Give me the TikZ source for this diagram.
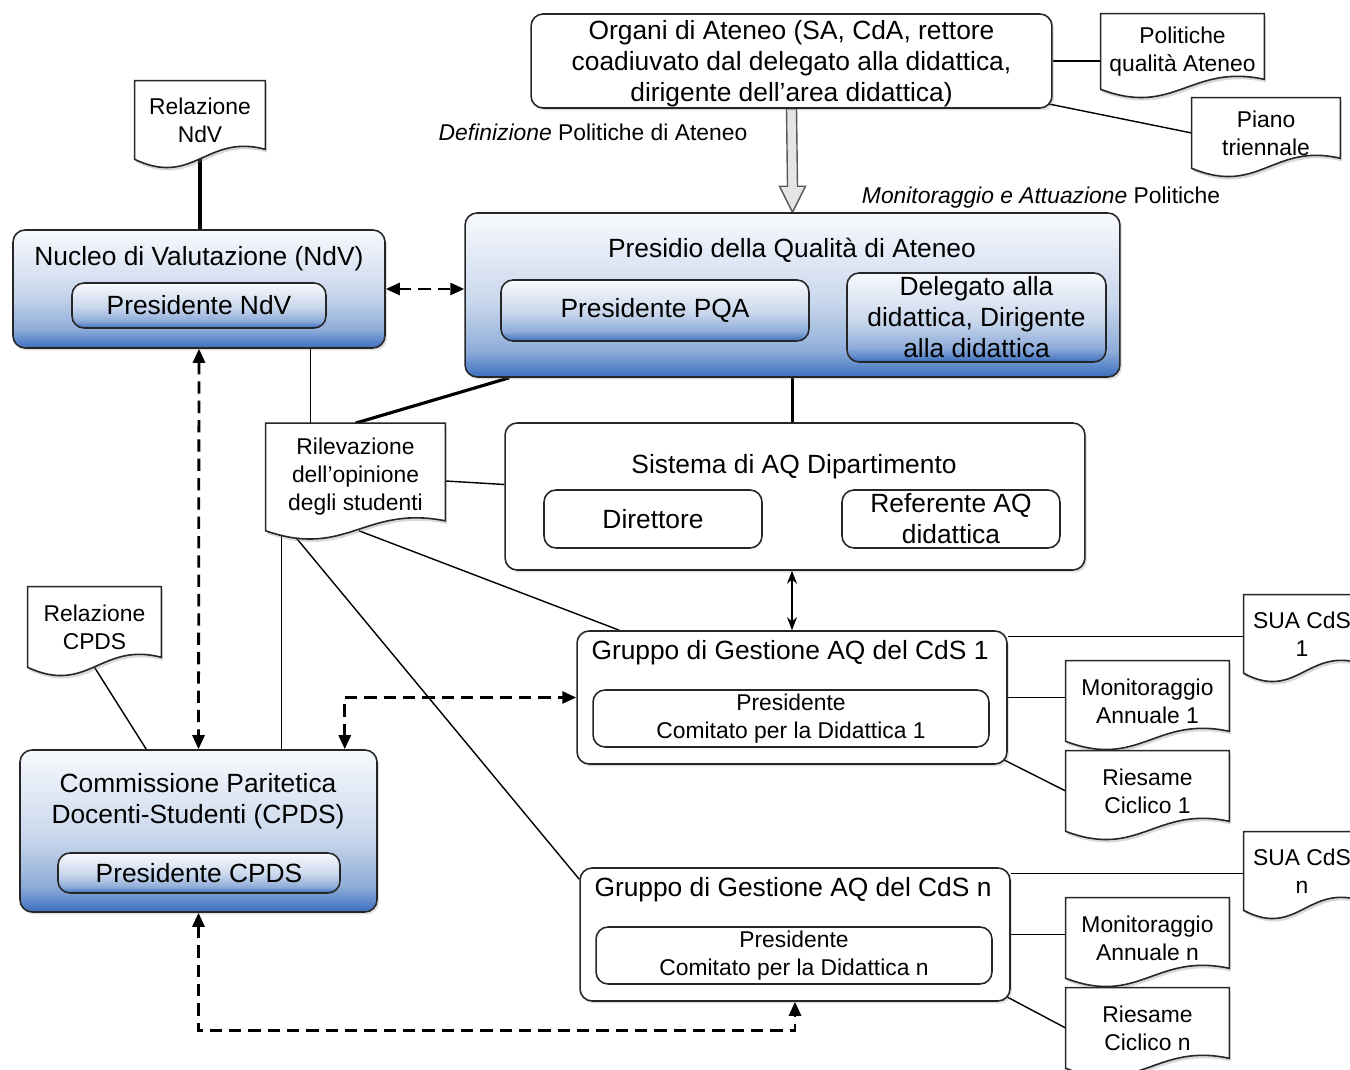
\documentclass[tikz,border=0pt]{standalone}
\usepackage{fontspec}
\setmainfont{Liberation Sans}
\usepackage{tikz}
\usetikzlibrary{calc,arrows.meta,shadows}
\definecolor{qaDark}{HTML}{3C6FBF}
\definecolor{qaMid}{HTML}{8FADD9}
\definecolor{qaLight}{HTML}{C9D7EC}
\definecolor{qaTop}{HTML}{F8FAFD}
\pgfdeclareverticalshading{boxshade}{100bp}{color(0bp)=(qaDark); color(25bp)=(qaDark); color(33bp)=(qaMid); color(48bp)=(qaLight); color(75bp)=(qaTop); color(100bp)=(qaTop)}
\pgfdeclarelayer{edges}
\pgfdeclarelayer{docs}
\pgfsetlayers{edges,docs,main}
\newcommand{\qabig}{\fontsize{15}{17.6}\selectfont}
\newcommand{\qasmall}{\fontsize{13}{15.9}\selectfont}

\begin{document}
\begin{tikzpicture}[x=0.02cm,y=-0.02cm,font=\qabig]

\tikzset{qabox/.style={draw=black!85,line width=0.9pt,rounded corners=0.24cm,fill=white,inner sep=0pt,align=center,drop shadow={opacity=0.25,shadow xshift=0.04cm,shadow yshift=-0.05cm}},
bluebox/.style={qabox,shade,shading=boxshade},
innerbox/.style={draw=black!85,line width=0.9pt,rounded corners=0.24cm,fill=white,inner sep=0pt,align=center},
blueinner/.style={innerbox,shade,shading=boxshade},
docnode/.style={font=\qasmall,align=center,inner sep=0pt},
docshape/.style={draw=black!85,line width=0.9pt,fill=white,drop shadow={opacity=0.3,shadow xshift=0.03cm,shadow yshift=-0.06cm}},
thinline/.style={line width=0.8pt},
thickline/.style={line width=1.8pt},
dasharrow/.style={line width=1.6pt,dash pattern=on 7pt off 4pt,>={Triangle[length=0.28cm,width=0.24cm]},<->},
twoway/.style={line width=0.8pt,>={Stealth[length=0.26cm,width=0.2cm]},<->},
hollowarrow/.style={draw=black!65,line width=0.8pt,fill=black!10}}

\useasboundingbox (0,0) rectangle (1350,1070);

% Ateneo
\node[qabox,minimum width=10.42cm,minimum height=1.88cm] (organi) at (791.5,61) {};
\node[align=center] (organiT) at (791.5,63.5) {Organi di Ateneo (SA, CdA, rettore\\coadiuvato dal delegato alla didattica,\\dirigente dell’area didattica)};
\node[docnode,minimum width=3.26cm,minimum height=1.5cm] (pol) at (1182.5,51.5) {Politiche\\qualità Ateneo};
\node[docnode,minimum width=2.96cm,minimum height=1.4cm] (piano) at (1266,133) {Piano\\triennale};
\node[font=\qasmall] (defin) at (593,132) {\textit{Definizione} Politiche di Ateneo};
\node[font=\qasmall] (monit) at (1041,198) {\textit{Monitoraggio e Attuazione} Politiche};

% Presidio
\node[bluebox,minimum width=13.1cm,minimum height=3.28cm] (presidio) at (792.5,295) {};
\node (presidioT) at (792,250) {Presidio della Qualità di Ateneo};
\node[blueinner,minimum width=6.16cm,minimum height=1.22cm] (pqa) at (655,310.5) {Presidente PQA};
\node[blueinner,minimum width=5.18cm,minimum height=1.78cm] (deleg) at (976.5,317.5) {Delegato alla\\didattica, Dirigente\\alla didattica};

% NdV
\node[bluebox,minimum width=7.44cm,minimum height=2.36cm] (ndv) at (199,289) {};
\node (ndvT) at (199,259) {Nucleo di Valutazione (NdV)};
\node[blueinner,minimum width=5.08cm,minimum height=0.9cm] (ndvP) at (199,305.5) {Presidente NdV};
\node[docnode,minimum width=2.6cm,minimum height=1.56cm] (rndv) at (200,120) {Relazione\\NdV};

% Rilevazione and Dipartimento
\node[docnode,minimum width=3.58cm,minimum height=2.14cm] (ril) at (355.5,477) {Rilevazione\\dell’opinione\\degli studenti};
\node[qabox,minimum width=11.6cm,minimum height=2.94cm] (sistema) at (795,496.5) {};
\node (sistemaT) at (794,467) {Sistema di AQ Dipartimento};
\node[innerbox,minimum width=4.36cm,minimum height=1.16cm] (dir) at (653,519) {Direttore};
\node[innerbox,minimum width=4.36cm,minimum height=1.16cm] (refAQ) at (951,519) {Referente AQ\\didattica};

% CPDS
\node[bluebox,minimum width=7.14cm,minimum height=3.24cm] (cpds) at (198.5,831) {};
\node[align=center] (cpdsT) at (198,801.5) {Commissione Paritetica\\Docenti-Studenti (CPDS)};
\node[blueinner,minimum width=5.64cm,minimum height=0.8cm] (cpdsP) at (199,873) {Presidente CPDS};
\node[docnode,minimum width=2.66cm,minimum height=1.6cm] (rcpds) at (94.5,627) {Relazione\\CPDS};

% CdS groups
\foreach \g/\dx/\dy in {1/0/0,n/3/237} {
\node[qabox,minimum width=8.6cm,minimum height=2.66cm] (gruppo\g) at (792+\dx,697.5+\dy) {};
\node (gruppo\g T) at (790+\dx,653+\dy) {Gruppo di Gestione AQ del CdS \g};
\node[innerbox,font=\qasmall,minimum width=7.92cm,minimum height=1.14cm] (pres\g) at (791+\dx,718.5+\dy) {Presidente\\Comitato per la Didattica \g};
\node[docnode,minimum width=2.32cm,minimum height=1.56cm] (sua\g) at (1302,634+\dy) {SUA CdS\\\g};
\node[docnode,minimum width=3.26cm,minimum height=1.6cm] (mon\g) at (1147.5,701+\dy) {Monitoraggio\\Annuale \g};
\node[docnode,minimum width=3.26cm,minimum height=1.6cm] (ries\g) at (1147.5,791+\dy) {Riesame\\Ciclico \g};
\begin{pgfonlayer}{edges}
\coordinate (gtop\g) at ($(gruppo\g.north east)+(0,6)$);
\draw[thinline] (gtop\g) -- (gtop\g -| sua\g.west);
\draw[thinline] (gruppo\g.east) -- (gruppo\g.east -| mon\g.west);
\draw[thinline] ($(gruppo\g.south east)+(-4,-5)$) -- (ries\g.west);
\end{pgfonlayer}
}

% Documents
\begin{pgfonlayer}{docs}
\foreach \d in {pol,piano,rndv,ril,rcpds,sua1,mon1,ries1,suan,monn,riesn}
\draw[docshape] (\d.north west) -- (\d.north east) -- ($(\d.south east)+(0,-10)$) .. controls ($(\d.south west)!.55!(\d.south east)+(0,-26)$) and ($(\d.south west)!.45!(\d.south east)+(0,28)$) .. (\d.south west) -- cycle;
\end{pgfonlayer}

% Edges
\begin{pgfonlayer}{edges}
\draw[thinline] (organi.east) -- (organi.east -| pol.west);
\draw[thinline] ($(organi.south east)+(-5,-5)$) -- (piano.west);
\draw[hollowarrow] ($(organi.south)+(-5,0)$) -- ($(presidio.north)+(-5,-26)$) -- ($(presidio.north)+(-13,-26)$) -- (presidio.north) -- ($(presidio.north)+(13,-26)$) -- ($(presidio.north)+(5,-26)$) -- ($(organi.south)+(5,0)$) -- cycle;
\draw[thickline] (rndv.south) -- (rndv.south |- ndv.north);
\draw[dasharrow] (ndv.east) -- (ndv.east -| presidio.west);
\draw[dasharrow] (ndv.south) -- (cpds.north);
\coordinate (rilT) at ($(ril.north west)+(45,0)$);
\draw[thinline] (rilT |- ndv.south) -- (rilT);
\draw[thickline] ($(presidio.south west)+(45,0)$) -- (ril.north);
\draw[thickline,line width=2.2pt] (presidio.south) -- (presidio.south |- sistema.north);
\draw[thinline] ($(ril.east)+(0,4)$) -- ($(sistema.west)+(0,-12)$);
\coordinate (rilA) at ($(ril.south west)+(16,0)$);
\draw[thinline] (rilA) -- (rilA |- cpds.north);
\draw[thinline] ($(ril.south west)+(28,4)$) -- ($(gruppon.north west)+(0,12)$);
\draw[thinline] ($(ril.south west)!.52!(ril.south east)$) -- ($(gruppo1.north west)+(43,0)$);
\draw[twoway] (sistema.south -| gruppo1.north) -- (gruppo1.north);
\draw[thinline] (rcpds.south) -- ($(cpds.north west)+(127,0)$);
\draw[dasharrow] ($(cpds.north east)+(-33,0)$) |- (gruppo1.west);
\draw[dasharrow] (cpds.south) -- ++(0,118) -| (gruppon.south);
\end{pgfonlayer}

\end{tikzpicture}
\end{document}
